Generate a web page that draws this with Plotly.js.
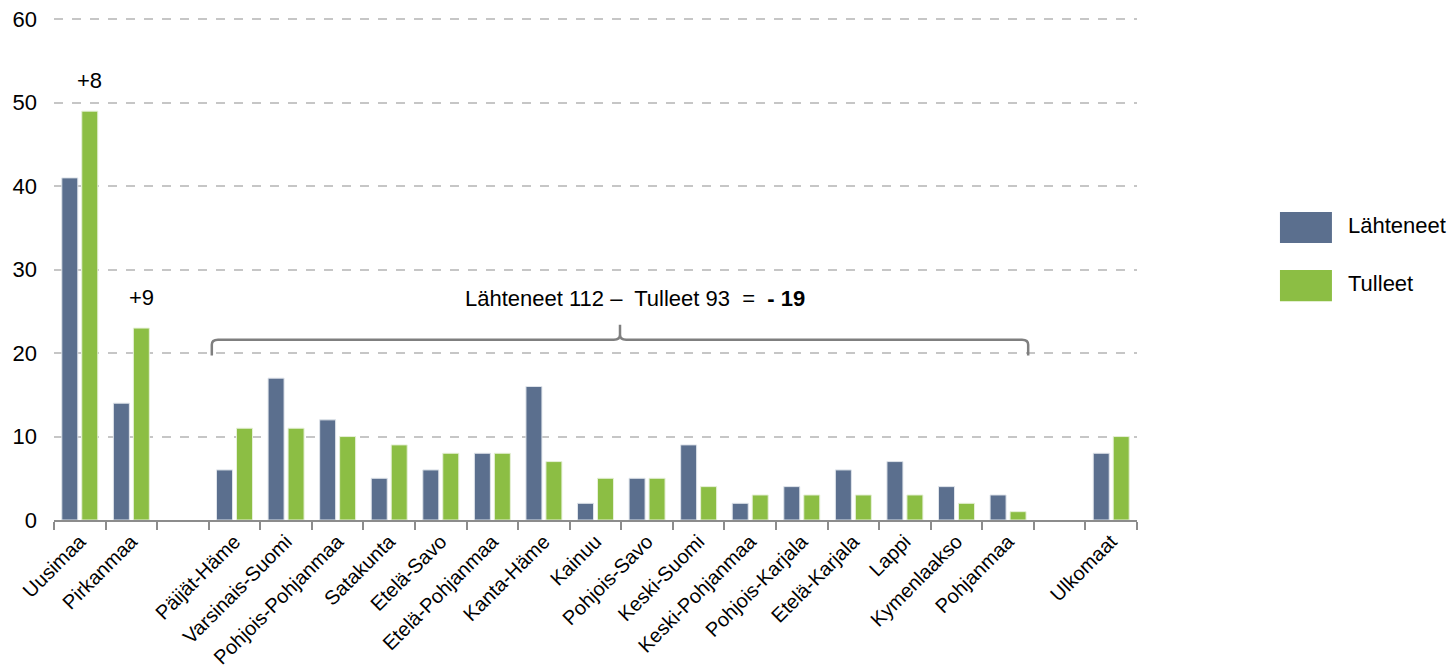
<!DOCTYPE html>
<html>
<head>
<meta charset="utf-8">
<script src="https://cdn.plot.ly/plotly-3.0.1.min.js"></script>
<style>html,body{margin:0;padding:0;background:#fff;}#chart{width:1449px;height:671px;}</style>
</head>
<body>
<div id="chart"></div>
<script>
const categories = ["Uusimaa","Pirkanmaa"," ","Päijät-Häme","Varsinais-Suomi","Pohjois-Pohjanmaa","Satakunta","Etelä-Savo","Etelä-Pohjanmaa","Kanta-Häme","Kainuu","Pohjois-Savo","Keski-Suomi","Keski-Pohjanmaa","Pohjois-Karjala","Etelä-Karjala","Lappi","Kymenlaakso","Pohjanmaa","  ","Ulkomaat"];
const lahteneet = [41,14,null,6,17,12,5,6,8,16,2,5,9,2,4,6,7,4,3,null,8];
const tulleet   = [49,23,null,11,11,10,9,8,8,7,5,5,4,3,3,3,3,2,1,null,10];
const seriesNames = ["Lähteneet","Tulleet"];
const bracketFirst = "Päijät-Häme";
const bracketLast = "Pohjanmaa";
const yTicks = [0,10,20,30,40,50,60];

const BLUE = "#5b6f8e";
const GREEN = "#8cbe44";
const FONT = "Liberation Sans, Arial, sans-serif";

const i0 = categories.indexOf(bracketFirst);
const i1 = categories.indexOf(bracketLast);
let sumL = 0, sumT = 0;
for (let i = i0; i <= i1; i++) { sumL += lahteneet[i] || 0; sumT += tulleet[i] || 0; }
const net = sumT - sumL;

const traces = [
  {type:"bar", name:seriesNames[0], x:categories, y:lahteneet, marker:{color:BLUE, line:{color:"#dfe4ea", width:1}}, hoverinfo:"x+y"},
  {type:"bar", name:seriesNames[1], x:categories, y:tulleet, marker:{color:GREEN, line:{color:"#e6f0d8", width:1}}, hoverinfo:"x+y"}
];

const annotations = [];
[0,1].forEach(i => {
  const d = tulleet[i] - lahteneet[i];
  annotations.push({x:categories[i], y:tulleet[i], xref:"x", yref:"y", text:(d>0?"+":"")+d, showarrow:false,
    xshift:10, yshift:31, font:{family:FONT, size:22, color:"#000"}});
});

const xa = i0 - 0.44, xb = i1 + 0.39, xm = (i0 + i1) / 2 - 0.025;
const yb = 19.7, yl = 21.6, yt = 23.4, dx = 0.12, dy = 0.6;
const path = `M ${xa},${yb} L ${xa},${yl-dy} Q ${xa},${yl} ${xa+dx},${yl} L ${xm-dx},${yl} Q ${xm},${yl} ${xm},${yl+dy} L ${xm},${yt} L ${xm},${yl+dy} Q ${xm},${yl} ${xm+dx},${yl} L ${xb-dx},${yl} Q ${xb},${yl} ${xb},${yl-dy} L ${xb},${yb}`;
const shapes = [
  {type:"path", xref:"x", yref:"y", path:path, line:{color:"#7f7f7f", width:2.5}}
];
annotations.push({x:xm+0.3, y:26.6, xref:"x", yref:"y", showarrow:false,
  text:`Lähteneet ${sumL} –  Tulleet ${sumT}  =  <b>${net<0?"- ":""}${Math.abs(net)}</b>`,
  font:{family:FONT, size:22, color:"#000"}});

// manual legend (paper coords)
const legY = [[0.544,0.605,0.578],[0.430,0.491,0.464]];
[BLUE, GREEN].forEach((c, k) => {
  shapes.push({type:"rect", xref:"paper", yref:"paper", x0:1.132, x1:1.180, y0:legY[k][0], y1:legY[k][1], fillcolor:c, line:{width:0}});
  annotations.push({xref:"paper", yref:"paper", x:1.193, y:legY[k][2], xanchor:"left", yanchor:"middle", showarrow:false,
    text:seriesNames[k], font:{family:FONT, size:22, color:"#000"}});
});

const layout = {
  width:1449, height:671,
  margin:{l:54, r:312, t:11, b:151},
  paper_bgcolor:"#fff", plot_bgcolor:"#fff",
  barmode:"group", bargap:0.225, bargroupgap:0.2,
  showlegend:false,
  font:{family:FONT, size:22, color:"#000"},
  xaxis:{type:"category", categoryorder:"array", categoryarray:categories, tickangle:-45,
    showline:true, linecolor:"#8c8c8c", linewidth:2, ticks:"outside", tickson:"boundaries", ticklen:8, tickwidth:2, tickcolor:"#8c8c8c",
    showgrid:false, tickfont:{family:FONT, size:20, color:"#000"}, fixedrange:true},
  yaxis:{range:[0,61], tickvals:yTicks, showline:false, ticks:"", zeroline:false,
    showgrid:true, gridcolor:"#c6c6c6", gridwidth:2, griddash:"dash", ticklabelstandoff:16,
    tickfont:{family:FONT, size:22, color:"#000"}, fixedrange:true},
  shapes:shapes,
  annotations:annotations
};

Plotly.newPlot("chart", traces, layout, {displayModeBar:false, staticPlot:true});
</script>
</body>
</html>
